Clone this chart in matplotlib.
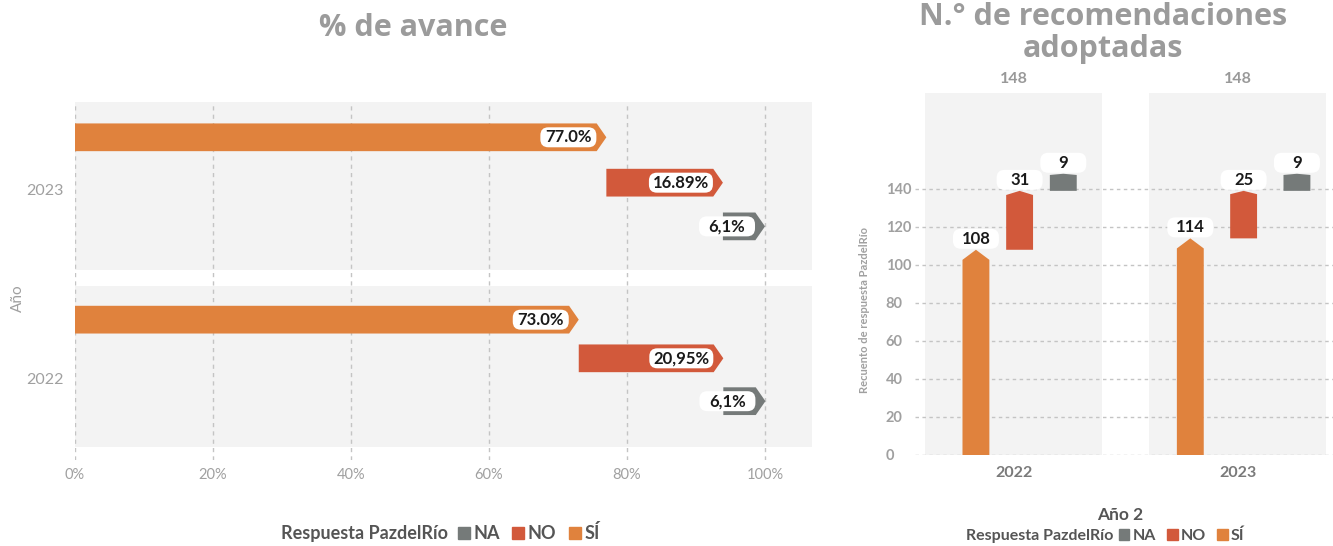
import matplotlib
matplotlib.use("Agg")
import matplotlib.pyplot as plt
from matplotlib.patches import Polygon, FancyBboxPatch, Patch
from matplotlib.transforms import ScaledTranslation

plt.rcParams['font.family'] = ['Lato', 'DejaVu Sans']

# data
categories = ['SÍ', 'NO', 'NA']
colors = {'SÍ': '#E0823D', 'NO': '#D2593B', 'NA': '#757A79'}

years_pct = ['2023', '2022']          # top to bottom
pct_values = [[77.0, 16.89, 6.1],
              [73.0, 20.95, 6.1]]
pct_labels = [['77.0%', '16.89%', '6,1%'],
              ['73.0%', '20,95%', '6,1%']]

years_cnt = ['2022', '2023']
cnt_values = [[108, 31, 9],
              [114, 25, 9]]

BAND = '#F3F3F3'
GRID = '#C4C4C4'
TICK = '#A0A0A0'
TITLE = '#9B9B9B'
DARK = '#555555'

fig = plt.figure(figsize=(13.33, 5.46), dpi=100)


def px_trans(ax, x, y):
    # inches offset from a data point
    return fig.dpi_scale_trans + ScaledTranslation(x, y, ax.transData)


def label_box(ax, x, y, text, w, h, dx, dy):
    """white pill with bold label, size/offset in pixels from data point"""
    tr = px_trans(ax, x, y)
    box = FancyBboxPatch((dx / 100, dy / 100), w / 100, h / 100,
                         boxstyle="round,pad=0,rounding_size=0.08",
                         transform=tr, fc='white', ec='none', zorder=5, clip_on=False)
    ax.add_patch(box)
    ax.text((dx + w / 2) / 100, (dy + h / 2) / 100, text, transform=tr,
            ha='center', va='center', fontsize=12, fontweight='bold',
            color='#1a1a1a', zorder=6)


# ---------- left: % de avance (horizontal waterfall) ----------
ax1 = fig.add_axes([75 / 1333, 86 / 546, 737 / 1333, 358 / 546])
ax1.set_xlim(0, 106.8)
ax1.set_ylim(2.13, 0)

band_top = [0, 1.095]
band_h = [1.0, 0.955]
bar_off = [[0.21, 0.48, 0.74], [0.20, 0.43, 0.685]]
tick_off = [0.52, 0.55]
bh = 0.165
tip = 1.4

for g, yr in enumerate(years_pct):
    ax1.axhspan(band_top[g], band_top[g] + band_h[g], color=BAND, lw=0, zorder=0)
    start = 0
    for k, cat in enumerate(categories):
        v = pct_values[g][k]
        end = start + v
        yc = band_top[g] + bar_off[g][k]
        pts = [(start, yc - bh / 2), (end - tip, yc - bh / 2), (end, yc),
               (end - tip, yc + bh / 2), (start, yc + bh / 2)]
        ax1.add_patch(Polygon(pts, closed=True, fc=colors[cat], ec='none', zorder=3))
        lab = pct_labels[g][k]
        w = 56 if len(lab) <= 5 else 64
        label_box(ax1, end, yc, lab, w, 20, -10 - w, -10)
        start = end

for xv in range(0, 101, 20):
    ax1.axvline(xv, color=GRID, lw=1, ls=(0, (3, 3)), zorder=1)

ax1.set_xticks(range(0, 101, 20))
ax1.set_xticklabels([f'{v}%' for v in range(0, 101, 20)])
ax1.set_yticks([band_top[g] + tick_off[g] for g in range(2)])
ax1.set_yticklabels(years_pct)
ax1.tick_params(length=0, colors=TICK, labelsize=11.5)
ax1.tick_params(axis='x', pad=6, labelsize=10.5)
ax1.tick_params(axis='y', pad=8)
for s in ax1.spines.values():
    s.set_visible(False)

fig.text(18 / 1333, 1 - 298 / 546, 'Año', rotation=90, ha='center', va='center',
         fontsize=11, color=TICK)
fig.text(413 / 1333, 1 - 28 / 546, '% de avance', ha='center', va='center',
         fontsize=22, fontweight='bold', color=TITLE, family=['Open Sans', 'DejaVu Sans'])

# ---------- right: N.° de recomendaciones (vertical waterfall) ----------
ax2 = fig.add_axes([915 / 1333, 91 / 546, 418 / 1333, 362 / 546])
ax2.set_xlim(-0.44, 1.426)
ax2.set_ylim(0, 190.5)

spacing = [0.195, 0.238]
bw = 0.12
for g, yr in enumerate(years_cnt):
    ax2.axvspan(g - 0.395, g + 0.395, color=BAND, lw=0, zorder=0)
    start = 0
    for k, cat in enumerate(categories):
        v = cnt_values[g][k]
        end = start + v
        xc = g + 0.027 + (k - 1) * spacing[g]
        t = min(5.3, 0.07 * v)
        pts = [(xc - bw / 2, start), (xc - bw / 2, end - t), (xc, end),
               (xc + bw / 2, end - t), (xc + bw / 2, start)]
        ax2.add_patch(Polygon(pts, closed=True, fc=colors[cat], ec='none', zorder=3))
        label_box(ax2, xc, end, str(v), 46, 20, -23, 1)
        start = end
    ax2.annotate(str(sum(cnt_values[g])), xy=(g, 1), xycoords=('data', 'axes fraction'),
                 xytext=(0, 10), textcoords='offset points', ha='center', va='center',
                 fontsize=11.5, fontweight='bold', color='#999999')

ax2.set_yticks(range(0, 141, 20))
ax2.yaxis.grid(True, color=GRID, lw=1, ls=(0, (2.5, 2.5)))
ax2.set_axisbelow(True)
ax2.set_xticks(range(len(years_cnt)))
ax2.set_xticklabels(years_cnt, fontweight='bold', color='#7a7a7a', fontsize=11.5)
ax2.tick_params(length=0)
ax2.tick_params(axis='y', colors=TICK, labelsize=10.5, pad=21)
for lbl in ax2.get_yticklabels():
    lbl.set_ha('left')
    lbl.set_fontweight('bold')
ax2.tick_params(axis='x', pad=8)
for s in ax2.spines.values():
    s.set_visible(False)

fig.text(865 / 1333, 1 - 310 / 546, 'Recuento de respuesta PazdelRío', rotation=90,
         ha='center', va='center', fontsize=8, fontweight='bold', color=TICK)
fig.text(1103 / 1333, 1 - 33 / 546, 'N.° de recomendaciones\nadoptadas', ha='center',
         va='center', fontsize=22, fontweight='bold', color=TITLE, linespacing=1.12,
         family=['Open Sans', 'DejaVu Sans'])
fig.text(1120 / 1333, 1 - 515 / 546, 'Año 2', ha='center', va='center',
         fontsize=12.5, fontweight='bold', color=DARK)

# ---------- legends ----------
handles = [Patch(color=colors[c]) for c in ['NA', 'NO', 'SÍ']]
names = ['NA', 'NO', 'SÍ']

fig.text(448 / 1333, 1 - 533 / 546, 'Respuesta PazdelRío', ha='right', va='center',
         fontsize=13, fontweight='bold', color=DARK)
leg1 = fig.legend(handles, names, loc='center left', bbox_to_anchor=(458 / 1333, 1 - 533 / 546),
                  ncol=3, frameon=False, handlelength=0.65, handleheight=0.65,
                  handletextpad=0.2, columnspacing=0.7, borderpad=0, borderaxespad=0,
                  prop={'weight': 'bold', 'size': 13})
for t in leg1.get_texts():
    t.set_color(DARK)

fig.text(1113 / 1333, 1 - 536 / 546, 'Respuesta PazdelRío', ha='right', va='center',
         fontsize=11.5, fontweight='bold', color=DARK)
leg2 = fig.legend(handles, names, loc='center left', bbox_to_anchor=(1119 / 1333, 1 - 536 / 546),
                  ncol=3, frameon=False, handlelength=0.65, handleheight=0.65,
                  handletextpad=0.2, columnspacing=0.7, borderpad=0, borderaxespad=0,
                  prop={'weight': 'bold', 'size': 11.5})
for t in leg2.get_texts():
    t.set_color(DARK)

fig.savefig('out.png', dpi=100)
